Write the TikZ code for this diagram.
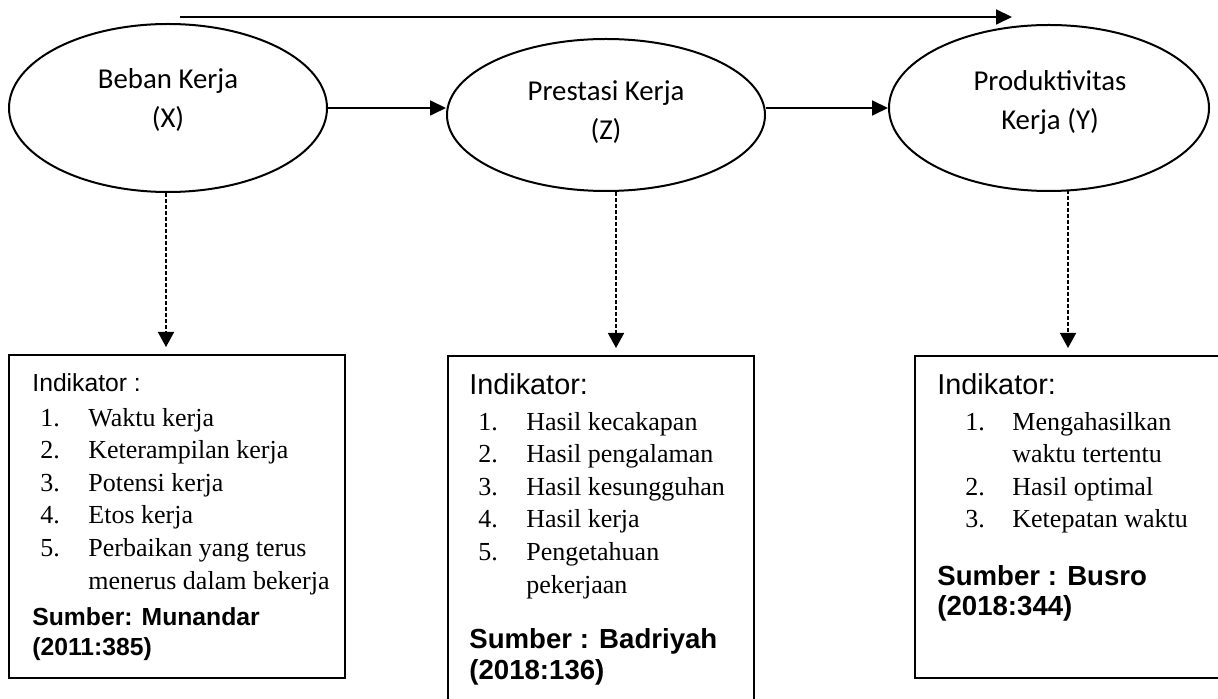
\documentclass[tikz,border=0pt]{standalone}
\usepackage{fontspec}
\setmainfont{Liberation Serif}
\newfontfamily\arialf{Liberation Sans}
\newfontfamily\calif{Carlito}
\usetikzlibrary{arrows.meta,shapes.geometric}
\begin{document}
\begin{tikzpicture}[x=0.5pt,y=-0.5pt,
  var/.style={draw,ellipse,line width=1pt,inner sep=0pt},
  vlabel/.style={font=\calif\fontsize{14.4}{19.5}\selectfont,align=center,inner sep=0pt},
  solidarrow/.style={line width=0.9pt,-{Triangle[length=8pt,width=7.5pt]}},
  dasharrow/.style={line width=0.8pt,dash pattern=on 2pt off 1pt,-{Triangle[length=7.5pt,width=8pt]},shorten >=3.5pt},
  indbox/.style={draw,rectangle,line width=1pt,inner sep=0pt},
  hdA/.style={anchor=base west,inner sep=0pt,font=\arialf\fontsize{12.35}{14}\selectfont},
  hdB/.style={anchor=base west,inner sep=0pt,font=\arialf\fontsize{14.4}{16}\selectfont},
  srcA/.style={anchor=base west,inner sep=0pt,font=\arialf\bfseries\fontsize{12.35}{14}\selectfont},
  srcB/.style={anchor=base west,inner sep=0pt,font=\arialf\bfseries\fontsize{13.8}{16}\selectfont},
  item/.style={anchor=base west,inner sep=0pt,font=\fontsize{13}{15}\selectfont}
]
\useasboundingbox (0,0) rectangle (1218,699);
\clip (0,0) rectangle (1218,699);

% variables
\node[var,minimum width=159pt,minimum height=84pt] (e1) at (168,108) {};
\node[var,minimum width=159pt,minimum height=76pt] (e2) at (606,115) {};
\node[var,minimum width=160pt,minimum height=83pt] (e3) at (1049,108) {};
\node[vlabel] (l1) at (168,100) {Beban Kerja\\(X)};
\node[vlabel] (l2) at (606,112) {Prestasi Kerja\\(Z)};
\node[vlabel] (l3) at (1050,102) {Produktivitas\\Kerja (Y)};

% boxes
\node[indbox,minimum width=168pt,minimum height=161.5pt] (b1) at (177,516.5) {};
\node[indbox,minimum width=153pt,minimum height=182pt] (b2) at (601,538) {};
\node[indbox,minimum width=162.5pt,minimum height=161pt] (b3) at (1077.5,517) {};

% arrows
\coordinate (ts) at (180,17);
\coordinate (te) at (1012,17);
\draw[solidarrow] (ts) -- (te);
\draw[solidarrow] (e1.east) -- (e1.east -| e2.west);
\draw[solidarrow] (e3.west -| e2.east) -- (e3.west);
\coordinate (a1) at ([xshift=-1pt]e1.south);
\coordinate (a2) at ([xshift=5pt]e2.south);
\coordinate (a3) at ([xshift=9.5pt,yshift=1pt]e3.south);
\draw[dasharrow] (a1) -- (a1 |- b1.north);
\draw[dasharrow] (a2) -- (a2 |- b2.north);
\draw[dasharrow] (a3) -- (a3 |- b3.north);

% box 1 text
\node[hdA] (b1h) at (32,392) {Indikator :};
\node[item] (b1n1) at (40,426) {1.};
\node[item] (b1t1) at (88,426) {Waktu kerja};
\node[item] (b1n2) at (40,458.6) {2.};
\node[item] (b1t2) at (88,458.6) {Keterampilan kerja};
\node[item] (b1n3) at (40,491.2) {3.};
\node[item] (b1t3) at (88,491.2) {Potensi kerja};
\node[item] (b1n4) at (40,523.8) {4.};
\node[item] (b1t4) at (88,523.8) {Etos kerja};
\node[item] (b1n5) at (40,556.4) {5.};
\node[item] (b1t5) at (88,556.4) {Perbaikan yang terus};
\node[item] (b1t6) at (88,589) {menerus dalam bekerja};
\node[srcA] (b1s1) at (32,625) {Sumber: Munandar};
\node[srcA] (b1s2) at (32,655) {(2011:385)};

% box 2 text
\node[hdB] (b2h) at (469,394) {Indikator:};
\node[item] (b2n1) at (478,430) {1.};
\node[item] (b2t1) at (526,430) {Hasil kecakapan};
\node[item] (b2n2) at (478,462.6) {2.};
\node[item] (b2t2) at (526,462.6) {Hasil pengalaman};
\node[item] (b2n3) at (478,495.2) {3.};
\node[item] (b2t3) at (526,495.2) {Hasil kesungguhan};
\node[item] (b2n4) at (478,527.8) {4.};
\node[item] (b2t4) at (526,527.8) {Hasil kerja};
\node[item] (b2n5) at (478,560.4) {5.};
\node[item] (b2t5) at (526,560.4) {Pengetahuan};
\node[item] (b2t6) at (526,593) {pekerjaan};
\node[srcB] (b2s1) at (469,648) {Sumber : Badriyah};
\node[srcB] (b2s2) at (469,679) {(2018:136)};

% box 3 text
\node[hdB] (b3h) at (937,394) {Indikator:};
\node[item] (b3n1) at (965,430) {1.};
\node[item] (b3t1) at (1012,430) {Mengahasilkan};
\node[item] (b3t2) at (1012,462.6) {waktu tertentu};
\node[item] (b3n3) at (965,495.2) {2.};
\node[item] (b3t3) at (1012,495.2) {Hasil optimal};
\node[item] (b3n4) at (965,527.8) {3.};
\node[item] (b3t4) at (1012,527.8) {Ketepatan waktu};
\node[srcB] (b3s1) at (937,585) {Sumber : Busro};
\node[srcB] (b3s2) at (937,615) {(2018:344)};
\end{tikzpicture}
\end{document}
